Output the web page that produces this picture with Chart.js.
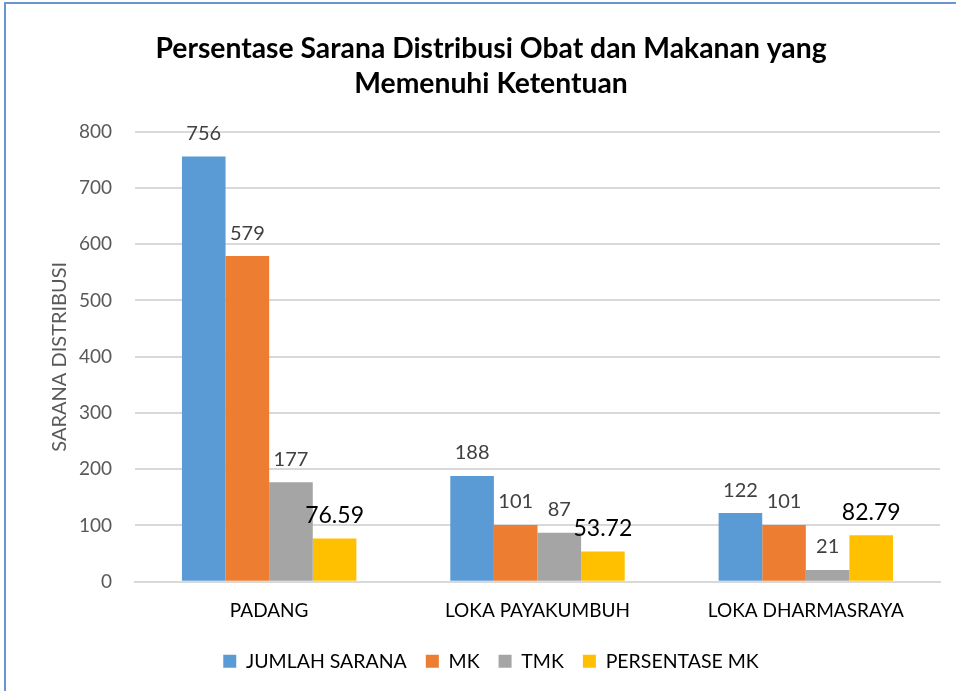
<!DOCTYPE html>
<html>
<head>
<meta charset="utf-8">
<script src="https://cdn.jsdelivr.net/npm/chart.js@4"></script>
<style>
  body { margin: 0; background: #fff; }
  #wrap { position: relative; width: 956px; height: 691px; overflow: hidden; }
  #frame { position: absolute; left: 4px; top: 2px; width: 980px; height: 720px; border: 2px solid #6a95cf; box-sizing: border-box; }
  #chart { position: absolute; left: 0; top: 0; }
</style>
</head>
<body>
<div id="wrap">
  <div id="frame"></div>
  <canvas id="chart" width="956" height="691"></canvas>
</div>
<script>
const categories = ['PADANG', 'LOKA PAYAKUMBUH', 'LOKA DHARMASRAYA'];
const jumlahSarana = [756, 188, 122];
const mk = [579, 101, 101];
const tmk = [177, 87, 21];
const persentaseMk = [76.59, 53.72, 82.79];
const yTicks = [0, 100, 200, 300, 400, 500, 600, 700, 800];
const yTitle = 'SARANA DISTRIBUSI';

const ctx = document.querySelector('#chart').getContext('2d');

// labels above each bar + rotated axis title
const barLabels = {
    id: 'barLabels',
    afterDatasetsDraw(chart) {
        const c = chart.ctx;
        chart.data.datasets.forEach((ds, i) => {
            const meta = chart.getDatasetMeta(i);
            const big = i === 3;
            c.save();
            c.font = (big ? '23px' : '20px') + ' Lato';
            c.fillStyle = big ? '#000000' : '#404040';
            c.textAlign = 'center';
            c.textBaseline = 'middle';
            meta.data.forEach((bar, j) => {
                c.fillText(String(ds.data[j]), bar.x, bar.y - 23);
            });
            c.restore();
        });

        const area = chart.chartArea;
        c.save();
        c.translate(area.left - 75, (area.top + area.bottom) / 2);
        c.rotate(-Math.PI / 2);
        c.font = '20px Lato';
        c.fillStyle = '#595959';
        c.textAlign = 'center';
        c.textBaseline = 'middle';
        c.fillText(yTitle, 0, 0);
        c.restore();
    }
};

new Chart(ctx, {
    type: 'bar',
    data: {
        labels: categories,
        datasets: [
            { label: 'JUMLAH SARANA', data: jumlahSarana, backgroundColor: '#5b9bd5' },
            { label: 'MK', data: mk, backgroundColor: '#ed7d31' },
            { label: 'TMK', data: tmk, backgroundColor: '#a5a5a5' },
            { label: 'PERSENTASE MK', data: persentaseMk, backgroundColor: '#ffc000' }
        ]
    },
    options: {
        responsive: false,
        animation: false,
        layout: { padding: { left: 42, right: 16, top: 14, bottom: 10 } },
        datasets: { bar: { categoryPercentage: 0.65, barPercentage: 1 } },
        plugins: {
            title: {
                display: true,
                text: ['Persentase Sarana Distribusi Obat dan Makanan yang', 'Memenuhi Ketentuan'],
                font: { family: 'Lato', size: 28.3, weight: 'bold', lineHeight: 1.25 },
                color: '#000000',
                padding: { top: 17, bottom: 30 }
            },
            legend: {
                position: 'bottom',
                labels: {
                    boxWidth: 13, boxHeight: 13,
                    font: { family: 'Lato', size: 19.5 },
                    color: '#000000',
                    padding: 19
                }
            },
            tooltip: { enabled: false }
        },
        scales: {
            x: {
                grid: { display: false },
                border: { color: '#d9d9d9', width: 2 },
                ticks: { font: { family: 'Lato', size: 19 }, color: '#000000', padding: 10 }
            },
            y: {
                min: 0, max: 800,
                afterBuildTicks: axis => { axis.ticks = yTicks.map(v => ({ value: v })); },
                afterFit: axis => { axis.width = 93; },
                grid: { color: '#d9d9d9', lineWidth: 2, drawTicks: false },
                border: { display: false },
                ticks: { font: { family: 'Lato', size: 19 }, color: '#595959', padding: 23 }
            }
        }
    },
    plugins: [barLabels]
});
</script>
</body>
</html>
